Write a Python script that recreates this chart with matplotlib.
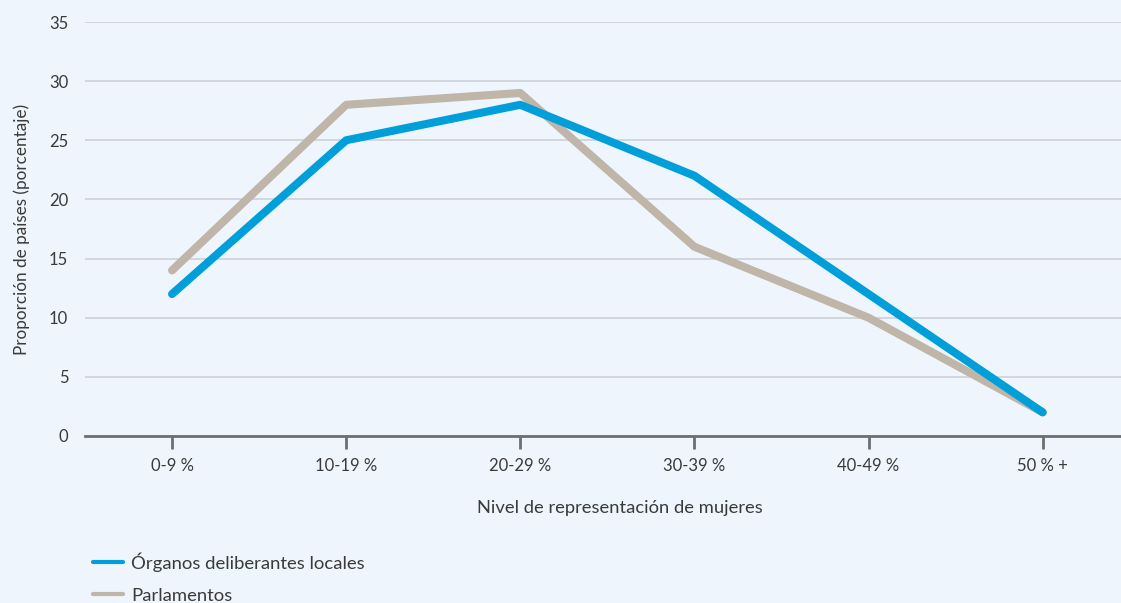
import matplotlib.pyplot as plt

# data
categorias = ["0-9 %", "10-19 %", "20-29 %", "30-39 %", "40-49 %", "50 % +"]
organos_locales = [12, 25, 28, 22, 12, 2]
parlamentos = [14, 28, 29, 16, 10, 2]

plt.rcParams['font.family'] = ['Lato', 'DejaVu Sans']
bg = "#EEF5FC"
txt = "#3A3A3A"

fig = plt.figure(figsize=(11.21, 6.03), dpi=100, facecolor=bg)
ax = fig.add_axes([85 / 1121, 1 - 436 / 603, 1 - 85 / 1121, (436 - 22) / 603], facecolor=bg)

x = list(range(len(categorias)))
ax.plot(x, parlamentos, color="#BFB5A8", lw=5.8, solid_capstyle="round",
        solid_joinstyle="round", label="Parlamentos", zorder=3)
ax.plot(x, organos_locales, color="#009FDA", lw=5.8, solid_capstyle="round",
        solid_joinstyle="round", label="Órganos deliberantes locales", zorder=4)

ax.set_ylim(0, 35)
ax.set_xlim(-0.5, 5.45)
ax.set_yticks(range(0, 36, 5))
ax.set_xticks(x)
ax.set_xticklabels(categorias)
ax.grid(axis="y", color="#CDD2D8", lw=1.2)
ax.set_axisbelow(True)

for s in ["top", "right", "left"]:
    ax.spines[s].set_visible(False)
ax.spines["bottom"].set_color("#6E6E6E")
ax.spines["bottom"].set_linewidth(2)
ax.spines["bottom"].set_zorder(5)

ax.tick_params(axis="y", length=0, pad=12, labelsize=12, labelcolor=txt)
ax.tick_params(axis="x", length=9, width=2, color="#6E6E6E", pad=7,
               labelsize=12, labelcolor=txt)

ax.set_ylabel("Proporción de países (porcentaje)", fontsize=12.3, color=txt, labelpad=14)
fig.text(620 / 1121, 1 - 508 / 603, "Nivel de representación de mujeres",
         ha="center", va="center", fontsize=13.2, color=txt)

# legend
h, l = ax.get_legend_handles_labels()
leg = fig.legend(h[::-1], l[::-1], loc="upper left",
                 bbox_to_anchor=(93 / 1121, 1 - 552 / 603), frameon=False,
                 fontsize=13.3, labelcolor=txt, handlelength=1.6,
                 handletextpad=0.45, labelspacing=0.88, borderpad=0,
                 borderaxespad=0)
for ln in leg.get_lines():
    ln.set_linewidth(3)

fig.savefig("out.png", dpi=100, facecolor=bg)
